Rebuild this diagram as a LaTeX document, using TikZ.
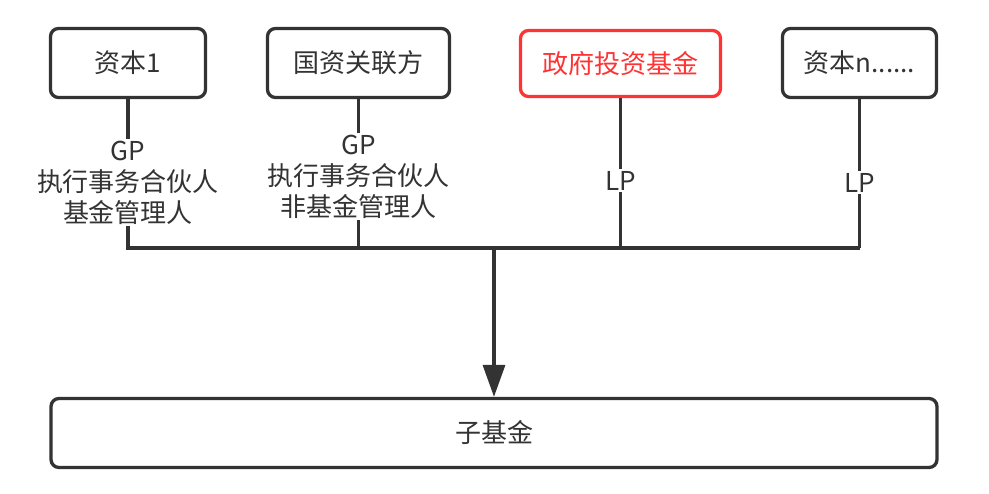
\documentclass[tikz,border=0pt]{standalone}
\usepackage{fontspec}
\setmainfont{Noto Sans CJK SC}
\usepackage{tikz}
\usetikzlibrary{arrows.meta}
\definecolor{fundgray}{RGB}{51,51,51}
\definecolor{fundred}{RGB}{255,51,51}

\begin{document}
\begin{tikzpicture}[x=1pt, y=-1pt, line width=3.3pt,
  every node/.style={font=\fontsize{26}{31}\selectfont, text=fundgray},
  box/.style={draw=fundgray, rounded corners=8pt, minimum height=69pt},
  role/.style={fill=white, align=center, inner sep=2pt}]
\useasboundingbox (0,0) rectangle (989,494);
\node[box,minimum width=155pt] (cap1) at (128,63) {资本1};
\node[box,minimum width=182pt] (soe) at (358.5,63) {国资关联方};
\node[box,draw=fundred,text=fundred,minimum width=200pt,minimum height=66pt] (gov) at (620.5,63.5) {政府投资基金};
\node[box,minimum width=154pt] (capn) at (859.5,63) {资本n......};
\node[box,minimum width=886pt] (sub) at (494,433) {子基金};
\coordinate (bus) at (494,248);
% investors to the bus line
\draw[fundgray] (cap1.south) -- node[role,pos=0.56]{GP\\执行事务合伙人\\基金管理人} (cap1.south |- bus) -- (capn.south |- bus);
\draw[fundgray] (soe.south) -- node[role,pos=0.52]{GP\\执行事务合伙人\\非基金管理人} (soe.south |- bus);
\draw[fundgray] (gov.south) -- node[role,pos=0.55]{LP} (gov.south |- bus);
\draw[fundgray] (capn.south) -- node[role,pos=0.56]{LP} (capn.south |- bus);
\draw[fundgray,-{Triangle[length=32pt,width=22pt]}] (bus) -- (sub.north);
\end{tikzpicture}
\end{document}
